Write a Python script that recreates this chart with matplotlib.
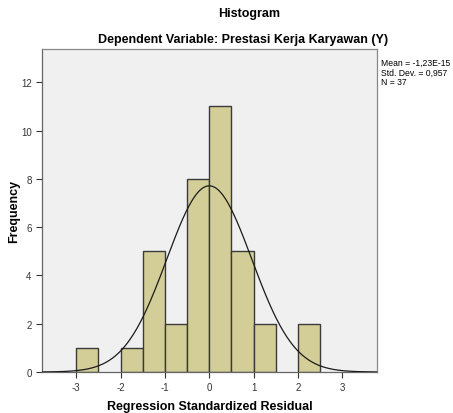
import numpy as np
import matplotlib
matplotlib.use("Agg")
import matplotlib.pyplot as plt

bin_edges = [-3.0, -2.5, -2.0, -1.5, -1.0, -0.5, 0.0, 0.5, 1.0, 1.5, 2.0, 2.5]
counts = [1, 0, 1, 5, 2, 8, 11, 5, 2, 0, 2]
mean = -1.23e-15
std = 0.957
n = 37
xticks = [-3, -2, -1, 0, 1, 2, 3]
yticks = [0, 2, 4, 6, 8, 10, 12]

plt.rcParams['font.family'] = ['Liberation Sans', 'DejaVu Sans']

fig = plt.figure(figsize=(4.53, 4.14), dpi=100)
ax = fig.add_axes([42/453, 1-373/414, (377-42)/453, (373-50)/414])
ax.set_facecolor('#F0F0F0')

lefts = np.array(bin_edges[:-1])
widths = np.diff(bin_edges)
for l, w, c in zip(lefts, widths, counts):
    if c > 0:
        ax.bar(l, c, width=w, align='edge', color='#D3CE97', edgecolor='#3A3A3A', linewidth=1.0, zorder=2)

xs = np.linspace(-3.8, 3.8, 400)
bw = widths[0]
ys = n * bw / (std * np.sqrt(2*np.pi)) * np.exp(-0.5*((xs-mean)/std)**2)
ax.plot(xs, ys, color='#1A1A1A', linewidth=0.9, zorder=3)

ax.set_xlim(-3.77, 3.78)
ax.set_ylim(0, 13.38)
ax.set_xticks(xticks)
ax.set_xticklabels([str(t) for t in xticks])
ax.set_yticks(yticks)
ax.tick_params(axis='both', labelsize=7, colors='#333333', length=4, width=0.8, direction='out')
ax.tick_params(axis='x', pad=3)
for s in ['top', 'right']:
    ax.spines[s].set_color('#888888')
for s in ['left', 'bottom']:
    ax.spines[s].set_color('#666666')
for s in ax.spines.values():
    s.set_linewidth(0.9)

ax.set_xlabel('Regression Standardized Residual', fontsize=9, fontweight='bold', labelpad=6)
ax.set_ylabel('Frequency', fontsize=9, fontweight='bold')
ax.yaxis.set_label_coords((20-42)/335, 0.5)

fig.text(249/453, 1-14/414, 'Histogram', ha='center', va='center', fontsize=9, fontweight='bold')
fig.text(243/453, 1-40/414, 'Dependent Variable: Prestasi Kerja Karyawan (Y)', ha='center', va='center', fontsize=9, fontweight='bold')

fig.text(381/453, 1-73/414, 'Mean = -1,23E-15\nStd. Dev. = 0,957\nN = 37', ha='left', va='center',
         fontsize=6.2, linespacing=1.05)

fig.savefig('out.png', dpi=100)
